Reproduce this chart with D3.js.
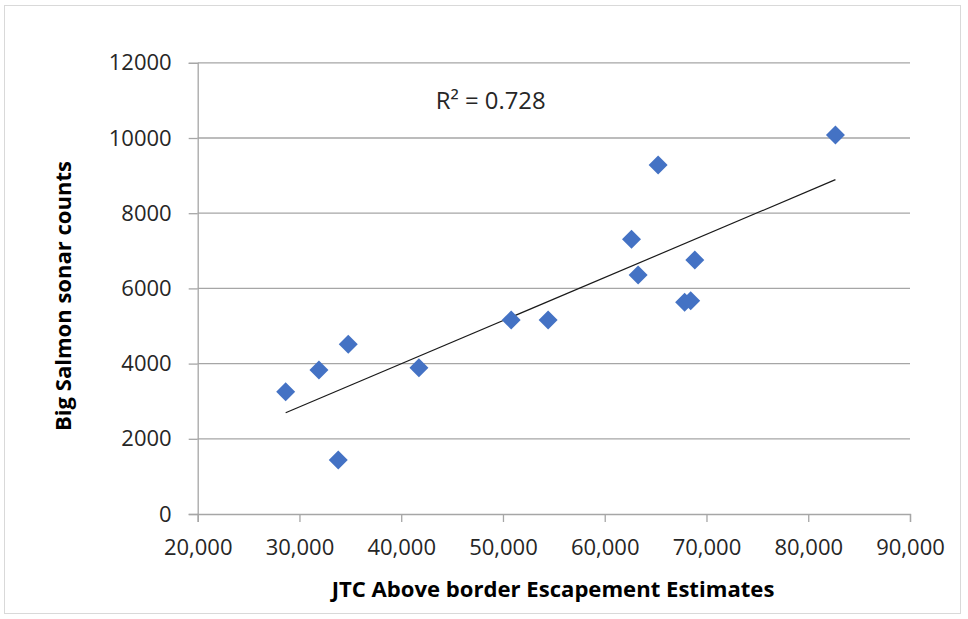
<!DOCTYPE html>
<html>
<head>
<meta charset="utf-8">
<script src="https://cdn.jsdelivr.net/npm/d3@7"></script>
<style>
html,body{margin:0;padding:0;background:#fff;}
svg{display:block;}
text{font-family:"Open Sans","Noto Sans",sans-serif;}
</style>
</head>
<body>
<svg id="chart" width="968" height="619"></svg>
<script>
// Data
const escapement = [28644, 31916, 34794, 33812, 41739, 50806, 54440, 62633, 63285, 65246, 68851, 67850, 68450, 82672];
const sonarCounts = [3253, 3830, 4513, 1436, 3891, 5160, 5160, 7306, 6356, 9282, 6755, 5630, 5670, 10080];
const xTicks = [20000, 30000, 40000, 50000, 60000, 70000, 80000, 90000];
const yTicks = [0, 2000, 4000, 6000, 8000, 10000, 12000];
const xTitle = "JTC Above border Escapement Estimates";
const yTitle = "Big Salmon sonar counts";
const r2Label = "R\u00B2 = 0.728";

const svg = d3.select("#chart");
const plot = {left: 197.7, right: 910, top: 62.8, bottom: 514};

// outer border
svg.append("rect").attr("x", 4.5).attr("y", 5.5).attr("width", 956).attr("height", 608)
  .attr("fill", "#fff").attr("stroke", "#d9d9d9").attr("stroke-width", 1);

const x = d3.scaleLinear().domain([20000, 90000]).range([plot.left, plot.right]);
const y = d3.scaleLinear().domain([0, 12000]).range([plot.bottom, plot.top]);

// horizontal gridlines
svg.append("g").selectAll("line").data(yTicks.filter(d => d > 0)).join("line")
  .attr("x1", plot.left).attr("x2", plot.right)
  .attr("y1", d => y(d)).attr("y2", d => y(d))
  .attr("stroke", "#a6a6a6").attr("stroke-width", 1.3);

// y axis
const yAxis = d3.axisLeft(y).tickValues(yTicks).tickSize(9).tickPadding(17).tickFormat(d3.format("d"));
const gy = svg.append("g").attr("transform", `translate(${plot.left},0)`).call(yAxis);
gy.select(".domain").attr("stroke", "#a6a6a6").attr("stroke-width", 1.3);
gy.selectAll(".tick line").attr("stroke", "#a6a6a6").attr("stroke-width", 1.3);
gy.selectAll(".tick text").attr("font-size", 22).attr("fill", "#262626")
  .attr("font-family", "'Open Sans','Noto Sans',sans-serif");

// x axis
const xAxis = d3.axisBottom(x).tickValues(xTicks).tickSize(8).tickPadding(17).tickFormat(d3.format(","));
const gx = svg.append("g").attr("transform", `translate(0,${plot.bottom})`).call(xAxis);
gx.select(".domain").attr("stroke", "#a6a6a6").attr("stroke-width", 1.3);
gx.selectAll(".tick line").attr("stroke", "#a6a6a6").attr("stroke-width", 1.3);
gx.selectAll(".tick text").attr("font-size", 22).attr("fill", "#262626")
  .attr("font-family", "'Open Sans','Noto Sans',sans-serif");

// linear regression trend line
const pts = escapement.map((v, i) => [v, sonarCounts[i]]);
const mx = d3.mean(escapement), my = d3.mean(sonarCounts);
const sxy = d3.sum(pts, p => (p[0] - mx) * (p[1] - my));
const sxx = d3.sum(pts, p => (p[0] - mx) ** 2);
const slope = sxy / sxx, intercept = my - slope * mx;
const x0 = d3.min(escapement), x1 = d3.max(escapement);
svg.append("line")
  .attr("x1", x(x0)).attr("y1", y(intercept + slope * x0))
  .attr("x2", x(x1)).attr("y2", y(intercept + slope * x1))
  .attr("stroke", "#1a1a1a").attr("stroke-width", 1.2);

// diamond markers
const diamond = d3.symbol().type(d3.symbolDiamond2).size(230);
svg.append("g").selectAll("path").data(pts).join("path")
  .attr("d", diamond)
  .attr("transform", d => `translate(${x(d[0])},${y(d[1])})`)
  .attr("fill", "#4472c4");

function fitText(sel, target) {
  const w = sel.node().getComputedTextLength();
  const fs = parseFloat(sel.attr("font-size"));
  sel.attr("font-size", fs * target / w);
}

// R² label
const r2 = svg.append("text").attr("x", 490.7).attr("y", 109).attr("text-anchor", "middle")
  .attr("font-size", 20).attr("fill", "#262626").text(r2Label);
fitText(r2, 110);

// axis titles (scaled to match reference widths)
const xt = svg.append("text").attr("x", 553).attr("y", 597).attr("text-anchor", "middle")
  .attr("font-size", 19).attr("font-weight", "bold").attr("fill", "#000").text(xTitle);
fitText(xt, 443);
const yt = svg.append("text").attr("transform", "translate(71,296) rotate(-90)").attr("text-anchor", "middle")
  .attr("font-size", 19).attr("font-weight", "bold").attr("fill", "#000").text(yTitle);
fitText(yt, 270);
</script>
</body>
</html>
